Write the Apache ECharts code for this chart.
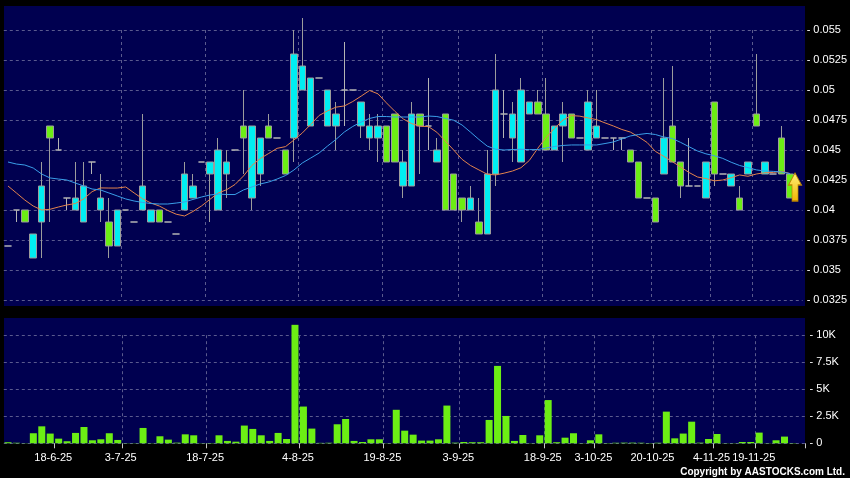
<!DOCTYPE html>
<html><head><meta charset="utf-8">
<script src="https://cdn.jsdelivr.net/npm/echarts@6/dist/echarts.min.js"></script>
<style>html,body{margin:0;padding:0;background:#000;}#chart{width:850px;height:478px;}</style>
</head><body><div id="chart"></div>
<script>
// OHLC per trading slot (price)
const opens = [0.037,0.040,0.040,0.036,0.039,0.047,0.045,0.041,0.040,0.039,
0.044,0.040,0.039,0.037,0.040,0.039,0.040,0.039,0.040,0.039,
0.038,0.040,0.041,0.044,0.043,0.040,0.043,0.045,0.047,0.041,
0.043,0.047,0.046,0.045,0.046,0.050,0.047,0.051,0.047,0.047,
0.050,0.050,0.047,0.046,0.046,0.047,0.048,0.042,0.042,0.048,
0.047,0.044,0.048,0.043,0.041,0.040,0.039,0.038,0.043,0.048,
0.046,0.044,0.048,0.049,0.048,0.045,0.047,0.048,0.046,0.045,
0.046,0.046,0.046,0.046,0.045,0.044,0.041,0.041,0.043,0.047,
0.044,0.042,0.042,0.041,0.049,0.043,0.042,0.041,0.043,0.048,
0.043,0.043,0.046,0.043];
const closes = [0.037,0.040,0.039,0.038,0.042,0.046,0.045,0.041,0.041,0.042,
0.044,0.041,0.037,0.040,0.040,0.039,0.042,0.040,0.039,0.039,
0.038,0.043,0.042,0.044,0.044,0.045,0.044,0.045,0.046,0.047,
0.046,0.046,0.046,0.043,0.053,0.052,0.051,0.051,0.050,0.048,
0.050,0.050,0.049,0.047,0.047,0.044,0.044,0.044,0.048,0.047,
0.047,0.045,0.040,0.040,0.040,0.041,0.038,0.043,0.050,0.048,
0.048,0.050,0.049,0.048,0.045,0.047,0.048,0.046,0.046,0.049,
0.047,0.046,0.046,0.046,0.044,0.041,0.041,0.039,0.046,0.044,
0.042,0.042,0.042,0.044,0.043,0.043,0.043,0.040,0.044,0.047,
0.044,0.043,0.043,0.041];
const lows = [0.037,0.039,0.039,0.036,0.036,0.039,0.045,0.040,0.040,0.039,
0.043,0.039,0.036,0.037,0.040,0.039,0.040,0.039,0.039,0.039,
0.038,0.040,0.041,0.044,0.039,0.040,0.041,0.045,0.043,0.040,
0.042,0.046,0.046,0.043,0.044,0.050,0.047,0.051,0.047,0.045,
0.047,0.050,0.046,0.045,0.044,0.044,0.044,0.041,0.042,0.043,
0.045,0.044,0.040,0.040,0.039,0.040,0.038,0.038,0.042,0.046,
0.044,0.044,0.048,0.048,0.045,0.045,0.044,0.046,0.046,0.045,
0.046,0.046,0.045,0.045,0.044,0.041,0.041,0.039,0.043,0.044,
0.041,0.042,0.042,0.041,0.042,0.043,0.042,0.040,0.043,0.047,
0.043,0.043,0.043,0.041];
const highs = [0.037,0.040,0.040,0.038,0.044,0.047,0.046,0.041,0.044,0.044,
0.044,0.043,0.041,0.040,0.040,0.039,0.048,0.040,0.040,0.039,
0.038,0.044,0.043,0.044,0.044,0.046,0.045,0.045,0.050,0.047,
0.046,0.048,0.046,0.045,0.055,0.056,0.051,0.051,0.050,0.049,
0.054,0.050,0.049,0.048,0.048,0.047,0.048,0.045,0.049,0.048,
0.051,0.046,0.048,0.043,0.041,0.042,0.041,0.045,0.053,0.050,
0.049,0.051,0.049,0.050,0.051,0.047,0.049,0.048,0.046,0.050,
0.050,0.046,0.046,0.046,0.045,0.044,0.041,0.041,0.051,0.052,
0.044,0.046,0.042,0.044,0.049,0.043,0.043,0.042,0.044,0.053,
0.044,0.043,0.047,0.043];
// moving averages
const maShort = [0.04200,0.04142,0.04083,0.04033,0.04000,0.04006,0.04025,0.04042,0.04054,0.04092,
0.04153,0.04184,0.04183,0.04183,0.04192,0.04142,0.04094,0.04058,0.04033,0.03996,
0.03965,0.03950,0.03988,0.04033,0.04088,0.04142,0.04169,0.04213,0.04283,0.04371,
0.04429,0.04471,0.04514,0.04528,0.04583,0.04642,0.04713,0.04788,0.04826,0.04857,
0.04867,0.04904,0.04949,0.04996,0.04968,0.04893,0.04823,0.04759,0.04720,0.04698,
0.04695,0.04648,0.04575,0.04500,0.04422,0.04371,0.04334,0.04298,0.04292,0.04307,
0.04325,0.04352,0.04413,0.04514,0.04605,0.04680,0.04750,0.04787,0.04782,0.04767,
0.04753,0.04726,0.04700,0.04671,0.04650,0.04609,0.04563,0.04488,0.04447,0.04403,
0.04358,0.04312,0.04275,0.04262,0.04243,0.04250,0.04269,0.04292,0.04281,0.04300,
0.04311,0.04313,0.04322,0.04304];
const maLong = [0.04400,0.04383,0.04375,0.04350,0.04300,0.04267,0.04258,0.04250,0.04225,0.04200,
0.04175,0.04167,0.04142,0.04117,0.04092,0.04075,0.04063,0.04054,0.04050,0.04050,
0.04058,0.04067,0.04088,0.04108,0.04125,0.04133,0.04129,0.04129,0.04167,0.04192,
0.04217,0.04233,0.04258,0.04287,0.04333,0.04392,0.04433,0.04475,0.04533,0.04588,
0.04650,0.04696,0.04733,0.04763,0.04779,0.04779,0.04775,0.04775,0.04775,0.04775,
0.04783,0.04779,0.04763,0.04748,0.04708,0.04649,0.04588,0.04532,0.04506,0.04500,
0.04504,0.04506,0.04503,0.04504,0.04517,0.04529,0.04538,0.04542,0.04542,0.04542,
0.04542,0.04554,0.04567,0.04592,0.04617,0.04629,0.04638,0.04629,0.04608,0.04596,
0.04563,0.04527,0.04492,0.04468,0.04452,0.04430,0.04398,0.04371,0.04353,0.04334,
0.04325,0.04322,0.04317,0.04303];
// volume (shares)
const volumes = [100,50,20,930,1570,900,430,190,960,1510,
280,370,930,310,20,20,1420,20,650,340,
60,830,740,20,30,740,220,150,1640,1330,
740,220,960,400,10960,3400,1360,40,50,1760,
2250,220,120,370,370,20,3100,1170,800,250,
250,370,3490,60,120,100,100,2160,7160,2530,
220,770,20,740,4000,100,520,930,20,280,
830,30,50,60,60,50,30,50,2930,460,
900,2000,60,400,860,20,20,120,120,990,
20,280,620,30];
// date tick labels and the trading slot each belongs to
const tickLabels = ['18-6-25','3-7-25','18-7-25','4-8-25','19-8-25','3-9-25','18-9-25','3-10-25','20-10-25','4-11-25','19-11-25'];
const tickSlots = [5,13,23,34,44,53,63,69,76,83,88];
const priceTicks = {min:0.0325, max:0.055, step:0.0025};
const volTicks = {min:0, max:10000, step:2500};

const slotCount = opens.length + 1;
const cats = Array.from({length: slotCount}, (_, i) => String(i));
const labelAt = {};
tickSlots.forEach((s, k) => { labelAt[s] = tickLabels[k]; });
const afterLabel = (i) => i > 0 && labelAt[i - 1] !== undefined;

const FONT = '"Liberation Sans", Arial, sans-serif';
const gridColor = '#5a5a8e';
const navy = '#000050';
const upColor = '#00eef2';
const downColor = '#6cee14';
const lastIdx = opens.length - 1;

const chart = echarts.init(document.getElementById('chart'), null, {renderer: 'canvas'});
const splitX = {show: true, interval: afterLabel, showMinLine: false, showMaxLine: false,
  lineStyle: {color: gridColor, type: [3, 3], width: 1}};
chart.setOption({
  backgroundColor: '#000',
  animation: false,
  graphic: [
    {type: 'rect', shape: {x: 4, y: 6, width: 801, height: 300}, style: {fill: navy}, z: -10, silent: true},
    {type: 'rect', shape: {x: 4, y: 318, width: 801, height: 125.5}, style: {fill: navy}, z: -10, silent: true},
    {type: 'text', x: 845, y: 472, z: 10, style: {text: 'Copyright by AASTOCKS.com Ltd.', fill: '#ffffff',
      font: 'bold 10px ' + FONT, align: 'right', verticalAlign: 'middle'}}
  ],
  grid: [
    {left: 3.8, top: 30, width: 801.8, height: 270},
    {left: 3.8, top: 335.2, width: 801.8, height: 108.1}
  ],
  xAxis: [
    {gridIndex: 0, type: 'category', data: cats, boundaryGap: true,
      axisLine: {show: false}, axisTick: {show: false}, axisLabel: {show: false}, splitLine: splitX},
    {gridIndex: 1, type: 'category', data: cats, boundaryGap: true,
      axisLine: {show: false},
      axisTick: {show: true, interval: afterLabel, length: 5, lineStyle: {color: '#c8c8c8'}},
      axisLabel: {show: true, interval: (i) => labelAt[i] !== undefined,
        formatter: (v) => labelAt[+v] || '', color: '#ffffff', fontSize: 11, fontFamily: FONT,
        margin: 9, padding: [0, 0, 0, 6]},
      splitLine: splitX}
  ],
  yAxis: [
    {gridIndex: 0, type: 'value', position: 'right', min: priceTicks.min, max: priceTicks.max, interval: priceTicks.step,
      axisLine: {show: false}, axisTick: {show: false},
      axisLabel: {color: '#ffffff', fontSize: 11, fontFamily: FONT, margin: 4,
        formatter: (v) => '- ' + parseFloat(v.toFixed(4))},
      splitLine: {show: true, lineStyle: {color: gridColor, type: [3, 3], width: 1}}},
    {gridIndex: 1, type: 'value', position: 'right', min: volTicks.min, max: volTicks.max, interval: volTicks.step,
      axisLine: {show: false}, axisTick: {show: false},
      axisLabel: {color: '#ffffff', fontSize: 11, fontFamily: FONT, margin: 4,
        formatter: (v) => '- ' + (v === 0 ? '0' : (v / 1000) + 'K')},
      splitLine: {show: true, lineStyle: {color: gridColor, type: [3, 3], width: 1}}}
  ],
  series: [
    {type: 'candlestick', xAxisIndex: 0, yAxisIndex: 0, barWidth: 7, clip: false,
      data: opens.map((o, i) => [o, closes[i], lows[i], highs[i]]),
      itemStyle: {color: upColor, color0: downColor, borderColor: '#9c9c9c', borderColor0: '#9c9c9c',
        borderColorDoji: '#b4b4b4', borderWidth: 1},
      markPoint: {
        symbol: 'path://M6.5,0 L13,12 L9.5,12 L9.5,28 L3.5,28 L3.5,12 L0,12 Z',
        symbolSize: [13, 28], symbolOffset: [5, 1], label: {show: false}, silent: true,
        itemStyle: {color: new echarts.graphic.LinearGradient(0, 0, 0, 1, [
          {offset: 0, color: '#fff27a'}, {offset: 1, color: '#f2b400'}]), borderColor: '#b98200', borderWidth: 1},
        data: [{coord: [lastIdx, (opens[lastIdx] + closes[lastIdx]) / 2]}]
      }},
    {type: 'line', xAxisIndex: 0, yAxisIndex: 0, data: maShort, showSymbol: false, smooth: false,
      lineStyle: {color: '#e3834c', width: 1}, silent: true},
    {type: 'line', xAxisIndex: 0, yAxisIndex: 0, data: maLong, showSymbol: false, smooth: false,
      lineStyle: {color: '#3a9ee8', width: 1}, silent: true},
    {type: 'bar', xAxisIndex: 1, yAxisIndex: 1, data: volumes, barWidth: 7, clip: false,
      itemStyle: {color: downColor}}
  ]
});
</script></body></html>
